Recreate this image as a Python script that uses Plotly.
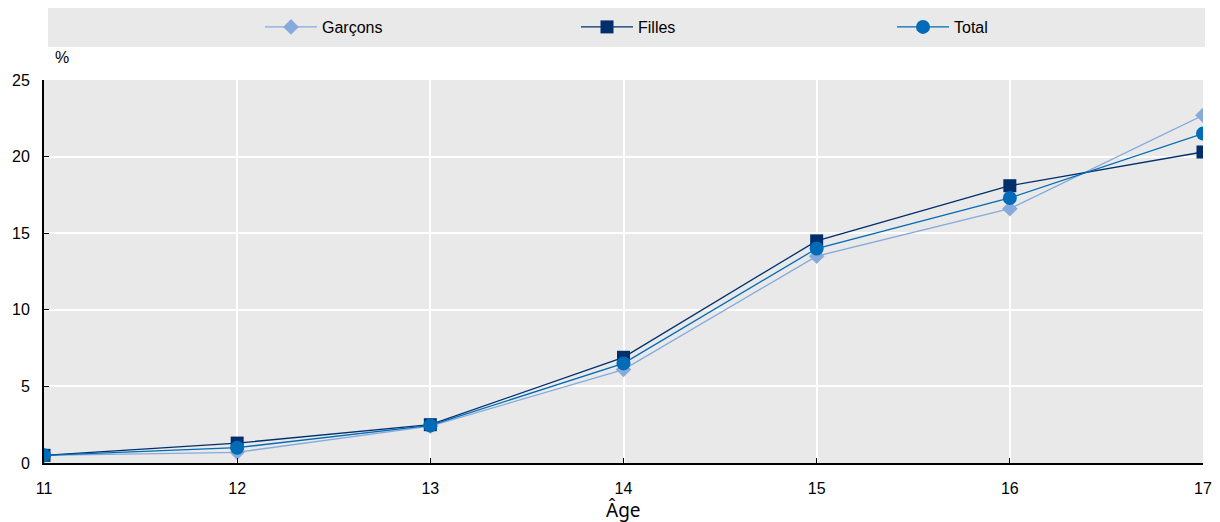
import plotly.graph_objects as go

ages = [11, 12, 13, 14, 15, 16, 17]
garcons = [0.5, 0.7, 2.4, 6.1, 13.5, 16.6, 22.7]
filles = [0.5, 1.3, 2.5, 6.9, 14.5, 18.1, 20.3]
total = [0.5, 1.0, 2.45, 6.5, 14.0, 17.3, 21.5]
y_ticks = [0, 5, 10, 15, 20, 25]

FONT = "Liberation Sans Narrow, Arial Narrow, Liberation Sans, Arial, sans-serif"

# page body has an 8px margin, so figure is 8px smaller and offset
W, H = 1212, 514
L, T, R, B = 36, 72, 17, 59
PH = H - T - B

fig = go.Figure()
fig.add_trace(go.Scatter(x=ages, y=garcons, name="Garçons", mode="lines+markers",
                         line=dict(color="#86aadc", width=1.3),
                         marker=dict(symbol="diamond", size=12, color="#86aadc")))
fig.add_trace(go.Scatter(x=ages, y=filles, name="Filles", mode="lines+markers",
                         line=dict(color="#002f6c", width=1.3),
                         marker=dict(symbol="square", size=13, color="#002f6c")))
fig.add_trace(go.Scatter(x=ages, y=total, name="Total", mode="lines+markers",
                         line=dict(color="#006bb6", width=1.3),
                         marker=dict(symbol="circle", size=14, color="#006bb6")))

fig.update_layout(
    width=W, height=H,
    margin=dict(l=L, r=R, t=T, b=B, autoexpand=False),
    paper_bgcolor="white",
    plot_bgcolor="#e9e9e9",
    font=dict(family=FONT, size=16, color="black"),
    showlegend=True,
    legend=dict(orientation="h", x=252 / W, xanchor="left", y=1 - 19 / H, yanchor="middle",
                xref="container", yref="container",
                entrywidth=249, itemwidth=52, bgcolor="rgba(0,0,0,0)",
                font=dict(family=FONT, size=16)),
    shapes=[dict(type="rect", xref="paper", yref="paper",
                 x0=(40 - L) / (W - L - R), x1=(1197 - L) / (W - L - R),
                 y0=1.0 + (T - 39) / PH, y1=1.0 + (T - 0) / PH,
                 fillcolor="#e9e9e9", line=dict(width=0), layer="below")],
    annotations=[
        dict(text="%", xref="paper", yref="paper", x=(45 - L) / (W - L - R),
             y=1.0 + 22 / PH, xanchor="left", yanchor="middle", showarrow=False,
             font=dict(family=FONT, size=16)),
        dict(text="Âge", xref="paper", yref="paper", x=0.5, y=-47 / PH,
             xanchor="center", yanchor="middle", showarrow=False,
             font=dict(family="Noto Sans, sans-serif", size=19)),
    ],
)

fig.update_xaxes(range=[11, 17], tickvals=ages, showgrid=True, gridcolor="white", gridwidth=2,
                 showline=True, linecolor="black", linewidth=2,
                 ticks="inside", ticklen=5, tickcolor="black",
                 zeroline=False, automargin=False, ticklabelstandoff=10,
                 tickfont=dict(family=FONT, size=16))
fig.update_yaxes(range=[0, 25], tickvals=y_ticks, showgrid=True, gridcolor="white", gridwidth=2,
                 showline=True, linecolor="black", linewidth=2,
                 ticks="inside", ticklen=5, tickcolor="black",
                 zeroline=False, automargin=False, ticklabelstandoff=9,
                 tickfont=dict(family=FONT, size=16))

fig.write_html("out.html")
